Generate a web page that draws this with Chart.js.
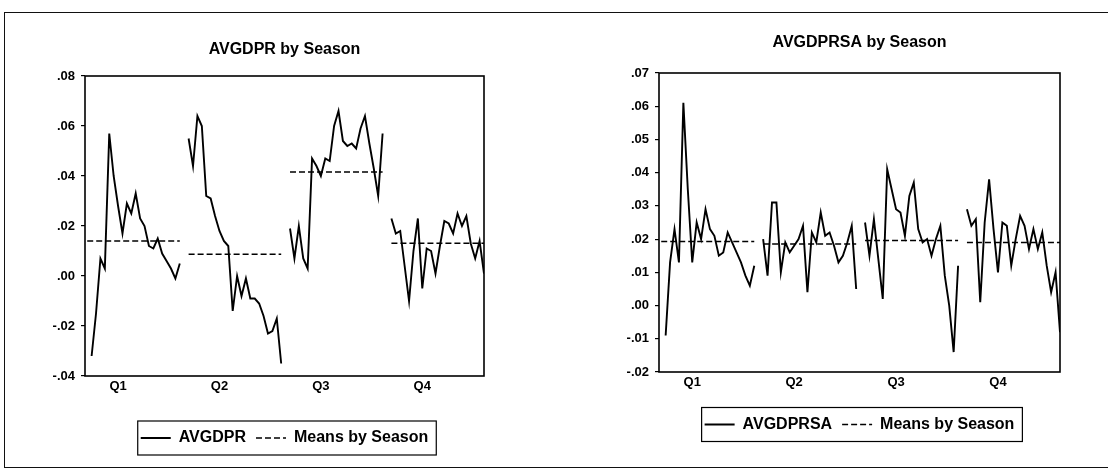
<!DOCTYPE html>
<html><head><meta charset="utf-8">
<script src="https://cdn.jsdelivr.net/npm/chart.js@4.4.1/dist/chart.umd.min.js"></script>
<style>
html,body{margin:0;padding:0;background:#fff;}
#page{position:relative;width:1108px;height:472px;overflow:hidden;background:#fff;}
#frame{position:absolute;left:4px;top:12px;width:1120px;height:456px;border:1.5px solid #111;box-sizing:border-box;}
.box{position:absolute;top:0;width:554px;height:472px;}
</style></head><body>
<div id="page">
<div id="frame"></div>
<div class="box" style="left:0"><canvas id="c1" width="554" height="472"></canvas></div>
<div class="box" style="left:554px"><canvas id="c2" width="554" height="472"></canvas></div>
</div>
<script>
// ---------- data ----------
const seasonLabels = ['Q1', 'Q2', 'Q3', 'Q4'];
const seasonTickPos = [7, 30, 53, 76];

// AVGDPR (left)
const avgdprQ1 = [null, -0.032, -0.015, 0.007, 0.003, 0.057, 0.040, 0.028, 0.017, 0.029, 0.025, 0.033, 0.023, 0.020, 0.012, 0.011, 0.015, 0.009, 0.006, 0.003, -0.001, 0.005];
const avgdprQ2 = [0.055, 0.044, 0.064, 0.060, 0.032, 0.031, 0.024, 0.018, 0.014, 0.012, -0.014, 0.000, -0.008, -0.001, -0.009, -0.009, -0.011, -0.016, -0.023, -0.022, -0.017, -0.035];
const avgdprQ3 = [0.019, 0.007, 0.020, 0.007, 0.003, 0.047, 0.044, 0.040, 0.047, 0.046, 0.060, 0.066, 0.054, 0.052, 0.053, 0.051, 0.059, 0.064, 0.053, 0.043, 0.032, 0.057];
const avgdprQ4 = [0.023, 0.017, 0.018, 0.004, -0.010, 0.010, 0.023, -0.005, 0.011, 0.010, 0.001, 0.012, 0.022, 0.021, 0.017, 0.025, 0.020, 0.024, 0.013, 0.007, 0.014, 0.001];
const avgdprMeans = [0.014, 0.0087, 0.0416, 0.0131];
const leftYTicks = [-0.04, -0.02, 0.00, 0.02, 0.04, 0.06, 0.08];
const leftYLabels = ['-.04', '-.02', '.00', '.02', '.04', '.06', '.08'];

// AVGDPRSA (right)
const avgdprsaQ1 = [null, -0.009, 0.013, 0.023, 0.013, 0.061, 0.035, 0.013, 0.025, 0.020, 0.029, 0.023, 0.021, 0.015, 0.016, 0.022, 0.019, 0.016, 0.013, 0.009, 0.006, 0.012];
const avgdprsaQ2 = [0.020, 0.009, 0.031, 0.031, 0.010, 0.019, 0.016, 0.018, 0.020, 0.024, 0.004, 0.022, 0.019, 0.028, 0.021, 0.022, 0.018, 0.013, 0.015, 0.019, 0.024, 0.005];
const avgdprsaQ3 = [0.025, 0.015, 0.026, 0.014, 0.002, 0.041, 0.035, 0.029, 0.028, 0.021, 0.033, 0.037, 0.023, 0.019, 0.020, 0.015, 0.020, 0.024, 0.009, 0.000, -0.014, 0.012];
const avgdprsaQ4 = [0.029, 0.024, 0.026, 0.001, 0.025, 0.038, 0.023, 0.010, 0.025, 0.024, 0.012, 0.020, 0.027, 0.024, 0.017, 0.023, 0.017, 0.022, 0.012, 0.004, 0.010, -0.008];
const avgdprsaMeans = [0.0193, 0.0185, 0.0196, 0.0190];
const rightYTicks = [-0.02, -0.01, 0.00, 0.01, 0.02, 0.03, 0.04, 0.05, 0.06, 0.07];
const rightYLabels = ['-.02', '-.01', '.00', '.01', '.02', '.03', '.04', '.05', '.06', '.07'];

// ---------- helpers ----------
const PITCH = 23; // observations per season block incl. one NA separator
function buildSeries(arrs) {
  const pts = [];
  arrs.forEach((arr, k) => {
    arr.forEach((v, j) => pts.push({x: k * PITCH + j, y: v}));
    if (k < arrs.length - 1) pts.push({x: k * PITCH + arr.length, y: null});
  });
  return pts;
}
function buildMeans(means, len) {
  const pts = [];
  means.forEach((m, k) => {
    pts.push({x: k * PITCH, y: m});
    pts.push({x: k * PITCH + len - 1, y: m});
    if (k < means.length - 1) pts.push({x: k * PITCH + len, y: null});
  });
  return pts;
}

Chart.defaults.font.family = "'Liberation Sans', Arial, sans-serif";
Chart.defaults.color = '#000';

const framePlugin = {
  id: 'frameBox',
  afterDraw(chart) {
    const {ctx, chartArea: a} = chart;
    ctx.save();
    ctx.strokeStyle = '#000';
    ctx.setLineDash([]);
    ctx.lineWidth = 1.6;
    ctx.strokeRect(a.left, a.top, a.right - a.left, a.bottom - a.top);
    const hb = chart.legend && chart.legend.legendHitBoxes;
    if (hb && hb.length) {
      const l = Math.min(...hb.map(h => h.left)) - 3;
      const r = Math.max(...hb.map(h => h.left + h.width)) + 8;
      const cy = hb[0].top + hb[0].height / 2;
      ctx.lineWidth = 1.2;
      ctx.strokeRect(l, cy - 17, r - l, 34);
    }
    ctx.restore();
  }
};

function makeChart(id, cfg) {
  return new Chart(document.getElementById(id), {
    type: 'line',
    data: {
      datasets: [
        {label: cfg.name, data: buildSeries(cfg.series), borderColor: '#000', backgroundColor: 'rgba(0,0,0,0)', borderWidth: 1.9, pointRadius: 0, tension: 0, spanGaps: false},
        {label: 'Means by Season', data: buildMeans(cfg.means, 22), borderColor: '#000', backgroundColor: 'rgba(0,0,0,0)', borderWidth: 1.5, borderDash: [6, 3], pointRadius: 0, tension: 0, spanGaps: false}
      ]
    },
    options: {
      responsive: false,
      animation: false,
      events: [],
      layout: {padding: {left: cfg.pl, right: cfg.pr, top: 0, bottom: cfg.pb}},
      plugins: {
        title: {display: true, text: cfg.title, fullSize: false, color: '#000',
          font: {size: 16, weight: 'bold'}, padding: {top: cfg.tpt, bottom: cfg.tpb}},
        legend: {display: true, position: 'bottom', fullSize: false,
          labels: {usePointStyle: false, boxWidth: 30, boxHeight: 0, padding: 10,
            color: '#000', font: {size: 16, weight: 'bold'}}},
        tooltip: {enabled: false}
      },
      scales: {
        x: {type: 'linear', min: -0.5, max: 90,
          afterFit: s => { s.height = cfg.xh; },
          afterBuildTicks: s => { s.ticks = seasonTickPos.map(v => ({value: v})); },
          ticks: {autoSkip: false, maxRotation: 0, padding: 3, color: '#000',
            font: {size: 13, weight: 'bold'}, callback: (v, i) => seasonLabels[i]},
          grid: {display: false, drawTicks: false}, border: {display: false}},
        y: {type: 'linear', min: cfg.yTicks[0], max: cfg.yTicks[cfg.yTicks.length - 1],
          afterFit: s => { s.width = 65; },
          afterBuildTicks: s => { s.ticks = cfg.yTicks.map(v => ({value: v})); },
          ticks: {padding: 6, color: '#000', font: {size: 13, weight: 'bold'},
            callback: (v, i) => cfg.yLabels[i]},
          grid: {drawOnChartArea: false, drawTicks: true, tickLength: 4, color: '#000', lineWidth: 1.2},
          border: {display: false}}
      }
    },
    plugins: [framePlugin]
  });
}

makeChart('c1', {
  name: 'AVGDPR', title: 'AVGDPR by Season',
  series: [avgdprQ1, avgdprQ2, avgdprQ3, avgdprQ4], means: avgdprMeans,
  yTicks: leftYTicks, yLabels: leftYLabels,
  pl: 20, pr: 70, pb: 16, xh: 44, tpt: 40.4, tpb: 16.4
});
makeChart('c2', {
  name: 'AVGDPRSA', title: 'AVGDPRSA by Season',
  series: [avgdprsaQ1, avgdprsaQ2, avgdprsaQ3, avgdprsaQ4], means: avgdprsaMeans,
  yTicks: rightYTicks, yLabels: rightYLabels,
  pl: 40, pr: 48, pb: 29.5, xh: 34.5, tpt: 33.4, tpb: 20.4
});
</script>
</body></html>
